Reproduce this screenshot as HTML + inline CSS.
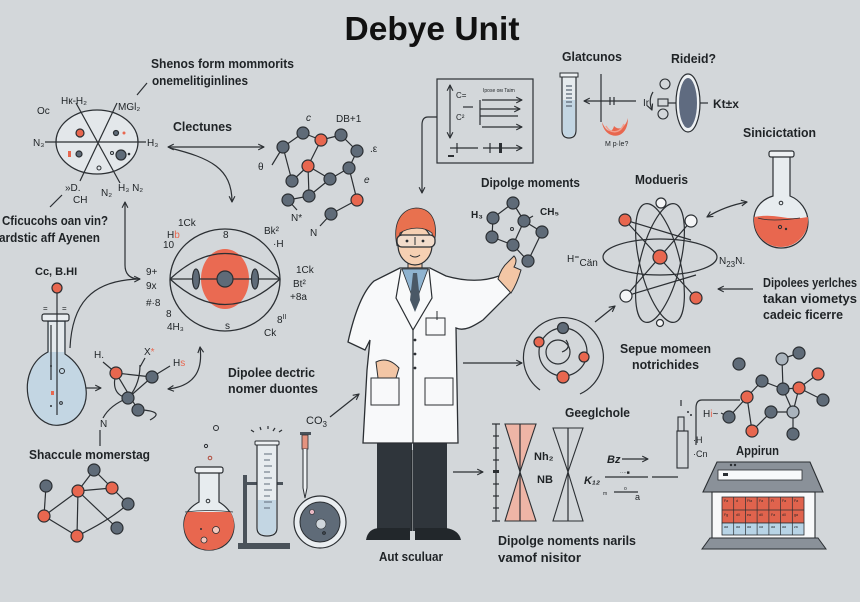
<!DOCTYPE html>
<html><head><meta charset="utf-8"><style>
html,body{margin:0;padding:0;background:#d3d7da;}
svg{display:block}
text{font-family:"Liberation Sans","DejaVu Sans",sans-serif;fill:#1f2326}
.b{font-weight:bold;font-size:13px}
.s{font-size:10px}
.t{font-size:5px}
.ln{fill:none;stroke:#2b2f33;stroke-width:1.2}
.g{fill:#5f6b78;stroke:#2b2f33;stroke-width:1.2}
.o{fill:#e8674f;stroke:#2b2f33;stroke-width:1.2}
.w{fill:#f4f5f6;stroke:#2b2f33;stroke-width:1.2}
.lg{fill:#aab4bd;stroke:#2b2f33;stroke-width:1.2}
</style></head><body>
<svg width="860" height="602" viewBox="0 0 860 602" xmlns="http://www.w3.org/2000/svg">
<defs>
<marker id="a" viewBox="0 0 10 10" refX="9" refY="5" markerWidth="6" markerHeight="6" orient="auto-start-reverse"><path d="M1,1 L9,5 L1,9" fill="none" stroke="#2b2f33" stroke-width="1.6"/></marker>
<clipPath id="cf1"><circle cx="209" cy="525" r="25"/></clipPath>
<clipPath id="cf2"><circle cx="781" cy="220" r="27"/></clipPath>
</defs>
<rect width="860" height="602" fill="#d3d7da"/>

<!-- Title -->
<text x="432" y="40" text-anchor="middle" font-size="33" font-weight="bold" textLength="175" lengthAdjust="spacingAndGlyphs" style="fill:#111">Debye Unit</text>

<!-- Top-left labels -->
<text class="b" x="151" y="68" textLength="143" lengthAdjust="spacingAndGlyphs" style="font-size:12.5px">Shenos form mommorits</text>
<text class="b" x="152" y="85" textLength="96" lengthAdjust="spacingAndGlyphs" style="font-size:12.5px">onemelitiginlines</text>
<line class="ln" x1="137" y1="95" x2="147" y2="83"/>

<!-- Left ellipse diagram -->
<ellipse cx="97" cy="142" rx="41" ry="32" fill="#e3e7ea" stroke="#2b2f33" stroke-width="1.3"/>
<line class="ln" x1="45" y1="142" x2="146" y2="142"/>
<line class="ln" x1="76" y1="103" x2="120" y2="183"/>
<line class="ln" x1="117" y1="103" x2="80" y2="181"/>
<circle class="o" cx="80" cy="133" r="4"/>
<circle class="g" cx="116" cy="133" r="2.5"/>
<circle cx="124" cy="133" r="1.5" fill="#e8674f"/>
<rect x="68" y="151" width="3" height="6" fill="#e8674f"/>
<circle class="g" cx="79" cy="154" r="3"/>
<circle class="g" cx="121" cy="155" r="5"/>
<circle cx="112" cy="153" r="1.5" fill="none" stroke="#2b2f33"/>
<circle cx="129" cy="154" r="1.3" fill="#2b2f33"/>
<circle cx="99" cy="168" r="2" fill="none" stroke="#2b2f33"/>
<text class="s" x="37" y="114">Oc</text>
<text class="s" x="61" y="104">Hк-H₂</text>
<text class="s" x="118" y="110">MGl₂</text>
<text class="s" x="33" y="146">N₃</text>
<text class="s" x="147" y="146">H₃</text>
<text class="s" x="65" y="191">»D.</text>
<text class="s" x="73" y="203">CH</text>
<text class="s" x="101" y="196">N₂</text>
<text class="s" x="118" y="191">H₃ N₂</text>
<line class="ln" x1="50" y1="207" x2="62" y2="195"/>

<text class="b" x="2" y="225" textLength="106" lengthAdjust="spacingAndGlyphs">Cficucohs oan vin?</text>
<text class="b" x="-1" y="242" textLength="101" lengthAdjust="spacingAndGlyphs">ardstic aff Ayenen</text>

<!-- Clectunes -->
<text class="b" x="173" y="131" textLength="59" lengthAdjust="spacingAndGlyphs">Clectunes</text>
<line class="ln" x1="168" y1="147" x2="264" y2="147" marker-start="url(#a)" marker-end="url(#a)"/>
<path class="ln" d="M170 148 C210 158 232 168 232 202" marker-end="url(#a)"/>

<!-- vertical arrow up to left diagram -->
<path class="ln" d="M140 279 Q125 279 125 265 L125 202" marker-end="url(#a)"/>

<!-- Top molecule network -->
<g class="ln">
<line x1="283" y1="147" x2="303" y2="133"/>
<line x1="303" y1="133" x2="321" y2="140"/>
<line x1="321" y1="140" x2="341" y2="135"/>
<line x1="341" y1="135" x2="357" y2="151"/>
<line x1="357" y1="151" x2="349" y2="168"/>
<line x1="321" y1="140" x2="308" y2="166"/>
<line x1="283" y1="147" x2="292" y2="181"/>
<line x1="308" y1="166" x2="330" y2="179"/>
<line x1="349" y1="168" x2="330" y2="179"/>
<line x1="308" y1="166" x2="309" y2="196"/>
<line x1="330" y1="179" x2="309" y2="196"/>
<line x1="292" y1="181" x2="308" y2="166"/>
<line x1="309" y1="196" x2="288" y2="200"/>
<line x1="349" y1="168" x2="357" y2="200"/>
<line x1="357" y1="200" x2="331" y2="214"/>
<line x1="283" y1="147" x2="272" y2="165"/>
<line x1="331" y1="214" x2="320" y2="226"/>
<line x1="288" y1="200" x2="297" y2="210"/>
</g>
<circle class="g" cx="283" cy="147" r="6"/>
<circle class="g" cx="303" cy="133" r="6"/>
<circle class="o" cx="321" cy="140" r="6"/>
<circle class="g" cx="341" cy="135" r="6"/>
<circle class="g" cx="357" cy="151" r="6"/>
<circle class="g" cx="349" cy="168" r="6"/>
<circle class="o" cx="308" cy="166" r="6"/>
<circle class="g" cx="292" cy="181" r="6"/>
<circle class="g" cx="330" cy="179" r="6"/>
<circle class="g" cx="309" cy="196" r="6"/>
<circle class="g" cx="288" cy="200" r="6"/>
<circle class="o" cx="357" cy="200" r="6"/>
<circle class="g" cx="331" cy="214" r="6"/>
<text class="s" x="306" y="121" font-style="italic">c</text>
<text class="s" x="336" y="122">DB+1</text>
<text class="s" x="258" y="170">θ</text>
<text class="s" x="364" y="183" font-style="italic">e</text>
<text class="s" x="370" y="152">.ε</text>
<text class="s" x="291" y="221">N*</text>
<text class="s" x="310" y="236">N</text>

<!-- Chart box -->
<path class="ln" d="M437 117 L428 117 Q422 117 422 125 L422 193" marker-end="url(#a)"/>
<rect x="437" y="79" width="96" height="84" fill="none" stroke="#2b2f33" stroke-width="1.2"/>
<line class="ln" x1="450" y1="85" x2="450" y2="138" marker-start="url(#a)" marker-end="url(#a)"/>
<text class="s" x="456" y="98" style="font-size:8px">C=</text>
<text class="s" x="456" y="120" style="font-size:8px">C²</text>
<text class="t" x="483" y="92">Ipose ом Taim</text>
<line class="ln" x1="463" y1="107" x2="473" y2="107"/>
<g class="ln" stroke-width="0.9">
<line x1="482" y1="100" x2="522" y2="100" marker-end="url(#a)"/>
<line x1="480" y1="109" x2="520" y2="109" marker-end="url(#a)"/>
<line x1="480" y1="116" x2="518" y2="116"/>
<line x1="482" y1="127" x2="522" y2="127" marker-end="url(#a)"/>
<line x1="480" y1="100" x2="480" y2="125"/>
<line x1="450" y1="148" x2="478" y2="148"/>
<line x1="483" y1="148" x2="522" y2="148" marker-end="url(#a)"/>
<line x1="457" y1="143" x2="457" y2="153"/>
<line x1="490" y1="143" x2="490" y2="153"/>
</g>
<rect x="499" y="143" width="3" height="10" fill="#2b2f33"/>
<rect x="448" y="155" width="6" height="2" fill="#2b2f33"/>

<!-- Glatcunos -->
<text class="b" x="562" y="61" textLength="60" lengthAdjust="spacingAndGlyphs">Glatcunos</text>
<path d="M562 75 L562 130 Q562 138 569 138 Q576 138 576 130 L576 75 Z" fill="#e6ebee" stroke="#2b2f33" stroke-width="1.2"/>
<path d="M563 100 L563 130 Q563 137 569 137 Q575 137 575 130 L575 100 Z" fill="#c3d6e3"/>
<rect x="560" y="73" width="18" height="4" fill="#eef1f3" stroke="#2b2f33" stroke-width="1"/>
<g stroke="#5f6b78" stroke-width="1.3"><line x1="566" y1="86" x2="572" y2="86"/><line x1="566" y1="90" x2="572" y2="90"/><line x1="566" y1="94" x2="572" y2="94"/><line x1="566" y1="98" x2="572" y2="98"/><line x1="566" y1="102" x2="572" y2="102"/><line x1="566" y1="106" x2="572" y2="106"/></g>
<line class="ln" x1="636" y1="101" x2="584" y2="101" marker-end="url(#a)"/>
<line class="ln" x1="601" y1="74" x2="601" y2="122"/>
<line class="ln" x1="610" y1="97" x2="610" y2="105"/><line class="ln" x1="614" y1="97" x2="614" y2="105"/>
<path d="M602 122 C604 140 628 142 628 118 C626 126 620 132 614 126 C612 134 606 132 602 122 Z" fill="#e8674f"/>
<path d="M606 126 C610 134 620 134 624 124" fill="none" stroke="#f2a08f" stroke-width="1.5"/>
<text x="605" y="146" style="font-size:7px">M p·le?</text>

<!-- Rideid -->
<text class="b" x="671" y="63" textLength="45" lengthAdjust="spacingAndGlyphs">Rideid?</text>
<ellipse cx="688" cy="103" rx="12" ry="29" fill="#eef1f3" stroke="#2b2f33" stroke-width="1.2"/>
<ellipse cx="688" cy="103" rx="9" ry="25" fill="#5f6b80"/>
<circle cx="665" cy="84" r="5" fill="none" stroke="#2b2f33" stroke-width="1.1"/>
<circle cx="663" cy="114" r="5" fill="none" stroke="#2b2f33" stroke-width="1.1"/>
<rect x="658" y="99" width="10" height="7" fill="none" stroke="#2b2f33" stroke-width="1.1"/>
<line class="ln" x1="668" y1="103" x2="676" y2="103"/>
<line class="ln" x1="700" y1="103" x2="708" y2="103"/>
<text class="s" x="643" y="106">Ir</text>
<path class="ln" d="M653 92 Q648 100 652 110" marker-end="url(#a)"/>
<text class="b" x="713" y="108" style="font-size:12px">Kt±x</text>

<!-- Sinicictation flask -->
<text class="b" x="743" y="137" textLength="73" lengthAdjust="spacingAndGlyphs">Sinicictation</text>
<path d="M773 156 L773 196 C760 200 753 210 754 222 C755 238 768 248 781 248 C795 248 808 238 808 222 C808 210 800 200 790 196 L790 156 Z" fill="#e7ecef" stroke="#2b2f33" stroke-width="1.2"/>
<g clip-path="url(#cf2)"><path d="M750 218 Q765 214 781 217 Q797 220 812 216 L812 260 L750 260 Z" fill="#e8674f"/></g>
<path d="M758 218 Q770 222 800 218" fill="none" stroke="#2b2f33" stroke-width="0.8"/>
<rect x="769" y="151" width="25" height="6" rx="2" fill="#eef1f3" stroke="#2b2f33" stroke-width="1.2"/>
<circle cx="781" cy="203" r="1.8" fill="none" stroke="#2b2f33"/>
<circle cx="780" cy="227" r="1.6" fill="none" stroke="#2b2f33"/>
<circle cx="786" cy="229" r="1.2" fill="#2b2f33"/>
<path class="ln" d="M707 217 Q725 206 747 202" marker-start="url(#a)" marker-end="url(#a)"/>

<!-- Dipolge moments molecule -->
<text class="b" x="481" y="187" textLength="99" lengthAdjust="spacingAndGlyphs">Dipolge moments</text>
<g class="ln">
<line x1="513" y1="203" x2="493" y2="218"/><line x1="513" y1="203" x2="524" y2="221"/>
<line x1="524" y1="221" x2="542" y2="232"/><line x1="493" y1="218" x2="492" y2="237"/>
<line x1="492" y1="237" x2="513" y2="245"/><line x1="513" y1="245" x2="528" y2="261"/>
<line x1="542" y1="232" x2="528" y2="261"/><line x1="524" y1="221" x2="513" y2="245"/>
<line x1="533" y1="216" x2="526" y2="220"/>
</g>
<circle class="g" cx="513" cy="203" r="6"/><circle class="g" cx="493" cy="218" r="6"/>
<circle class="g" cx="524" cy="221" r="6"/><circle class="g" cx="542" cy="232" r="6"/>
<circle class="g" cx="492" cy="237" r="6"/><circle class="g" cx="513" cy="245" r="6"/>
<circle class="g" cx="528" cy="261" r="6"/>
<circle cx="512" cy="229" r="1.5" fill="none" stroke="#2b2f33"/>
<text class="s" x="471" y="218" font-weight="bold">H₃</text>
<text class="s" x="540" y="215" font-weight="bold">CH₅</text>

<!-- Atom -->
<text class="b" x="635" y="184" textLength="53" lengthAdjust="spacingAndGlyphs">Modueris</text>
<g class="ln">
<ellipse cx="660" cy="257" rx="57" ry="18"/>
<ellipse cx="660" cy="263" rx="20" ry="61" transform="rotate(-14 660 263)"/>
<ellipse cx="660" cy="263" rx="20" ry="61" transform="rotate(14 660 263)"/>
<line x1="625" y1="220" x2="696" y2="298"/>
<line x1="691" y1="221" x2="626" y2="296"/>
<line x1="625" y1="220" x2="691" y2="240"/>
<line x1="626" y1="296" x2="696" y2="275"/>
</g>
<circle class="o" cx="660" cy="257" r="7"/>
<circle class="w" cx="661" cy="203" r="5"/>
<circle class="o" cx="625" cy="220" r="6"/>
<circle class="w" cx="691" cy="221" r="6"/>
<circle class="w" cx="626" cy="296" r="6"/>
<circle class="o" cx="696" cy="298" r="6"/>
<circle class="w" cx="660" cy="323" r="3.5"/>
<text class="s" x="567" y="262">H⁼<tspan dy="4">Cän</tspan></text>
<text class="s" x="719" y="264">N<tspan dy="3" style="font-size:8px">23</tspan><tspan dy="-3">N.</tspan></text>

<text class="b" x="763" y="287" textLength="94" lengthAdjust="spacingAndGlyphs">Dipolees yerlches</text>
<text class="b" x="763" y="303" textLength="94" lengthAdjust="spacingAndGlyphs">takan viometys</text>
<text class="b" x="763" y="319" textLength="80" lengthAdjust="spacingAndGlyphs">cadeic ficerre</text>
<line class="ln" x1="753" y1="289" x2="718" y2="289" marker-end="url(#a)"/>

<!-- Orbit circle -->
<path class="ln" d="M540 390 A40 40 0 1 1 580 394"/>
<circle class="ln" cx="563" cy="352" r="24"/>
<circle class="ln" cx="558" cy="352" r="12"/>
<path class="ln" d="M566 340 Q572 348 562 352" />
<circle class="g" cx="563" cy="328" r="5.5"/>
<circle class="o" cx="539" cy="342" r="5"/>
<circle class="o" cx="584" cy="357" r="5"/>
<circle class="o" cx="563" cy="377" r="6"/>
<line class="ln" x1="595" y1="322" x2="615" y2="306" marker-end="url(#a)"/>
<line class="ln" x1="463" y1="363" x2="522" y2="363" marker-end="url(#a)"/>
<text class="b" x="620" y="353" textLength="91" lengthAdjust="spacingAndGlyphs">Sepue momeen</text>
<text class="b" x="632" y="369" textLength="67" lengthAdjust="spacingAndGlyphs">notrichides</text>

<!-- Right molecule cluster -->
<g class="ln">
<line x1="799" y1="353" x2="782" y2="359"/>
<line x1="782" y1="359" x2="783" y2="389"/>
<line x1="762" y1="381" x2="783" y2="389"/>
<line x1="783" y1="389" x2="799" y2="388"/>
<line x1="799" y1="388" x2="818" y2="374"/>
<line x1="799" y1="388" x2="823" y2="400"/>
<line x1="762" y1="381" x2="747" y2="397"/>
<line x1="747" y1="397" x2="729" y2="417"/>
<line x1="747" y1="397" x2="752" y2="431"/>
<line x1="752" y1="431" x2="771" y2="412"/>
<line x1="771" y1="412" x2="793" y2="412"/>
<line x1="793" y1="412" x2="799" y2="388"/>
<line x1="793" y1="412" x2="793" y2="434"/>
<line x1="783" y1="389" x2="793" y2="412"/>
<line x1="729" y1="417" x2="721" y2="413"/>
<path d="M740 400 L702 400 Q696 400 696 408 L696 445"/>
</g>
<circle class="g" cx="799" cy="353" r="6"/>
<circle class="lg" cx="782" cy="359" r="6"/>
<circle class="g" cx="739" cy="364" r="6"/>
<circle class="o" cx="818" cy="374" r="6"/>
<circle class="g" cx="762" cy="381" r="6"/>
<circle class="g" cx="783" cy="389" r="6"/>
<circle class="o" cx="799" cy="388" r="6"/>
<circle class="o" cx="747" cy="397" r="6"/>
<circle class="g" cx="823" cy="400" r="6"/>
<circle class="g" cx="771" cy="412" r="6"/>
<circle class="lg" cx="793" cy="412" r="6"/>
<circle class="g" cx="729" cy="417" r="6"/>
<circle class="o" cx="752" cy="431" r="6"/>
<circle class="g" cx="793" cy="434" r="6"/>
<text class="s" x="703" y="417">H<tspan fill="#e8674f">i</tspan>~</text>
<text class="s" x="693" y="443" style="font-size:9px">·H</text>
<text class="s" x="693" y="457" style="font-size:9px">·Cn</text>
<rect x="678" y="417" width="6" height="14" fill="none" stroke="#2b2f33" stroke-width="1.1"/>
<rect x="677" y="431" width="11" height="37" fill="none" stroke="#2b2f33" stroke-width="1.1"/>
<line class="ln" x1="681" y1="400" x2="681" y2="406"/>
<circle cx="688" cy="412" r="1" fill="#2b2f33"/><circle cx="691" cy="415" r="1" fill="#2b2f33"/>

<!-- Geeglchole -->
<text class="b" x="565" y="417" textLength="65" lengthAdjust="spacingAndGlyphs">Geeglchole</text>
<line class="ln" x1="453" y1="472" x2="483" y2="472" marker-end="url(#a)"/>
<g class="ln">
<line x1="496" y1="424" x2="496" y2="521"/>
<line x1="492" y1="424" x2="500" y2="424"/><line x1="492" y1="521" x2="500" y2="521"/>
<line x1="493" y1="436" x2="499" y2="436"/><line x1="493" y1="448" x2="499" y2="448"/>
<line x1="493" y1="460" x2="499" y2="460"/><line x1="493" y1="484" x2="499" y2="484"/>
<line x1="493" y1="496" x2="499" y2="496"/><line x1="493" y1="508" x2="499" y2="508"/>
</g>
<rect x="493" y="470" width="6" height="3" fill="#2b2f33"/>
<path d="M505 424 L536 424 L520 472 L536 521 L505 521 L520 472 Z" fill="#eeb5a6" stroke="#2b2f33" stroke-width="1.1"/>
<line class="ln" x1="520" y1="424" x2="520" y2="521"/>
<path d="M553 428 L583 428 L568 472 L583 521 L553 521 L568 472 Z" fill="none" stroke="#2b2f33" stroke-width="1.1"/>
<line class="ln" x1="568" y1="428" x2="568" y2="521"/>
<text class="s" x="534" y="460" style="font-size:11px;font-weight:bold">Nh₂</text>
<text class="s" x="537" y="483" style="font-size:11px;font-weight:bold">NB</text>
<text class="s" x="584" y="484" style="font-size:11px;font-weight:bold;font-style:italic">K₁₂</text>
<text class="s" x="607" y="463" style="font-size:11px;font-weight:bold;font-style:italic">Bz</text>
<line class="ln" x1="622" y1="459" x2="648" y2="459" marker-end="url(#a)"/>
<line class="ln" x1="605" y1="477" x2="648" y2="477"/>
<line class="ln" x1="652" y1="477" x2="678" y2="477"/>
<text class="t" x="620" y="474">····■</text>
<text class="t" x="603" y="495">m</text>
<text class="t" x="624" y="490">o</text>
<line class="ln" x1="614" y1="492" x2="638" y2="492" stroke-width="0.8"/>
<text class="s" x="635" y="500" style="font-size:9px">a</text>

<text class="b" x="498" y="545" textLength="138" lengthAdjust="spacingAndGlyphs">Dipolge noments narils</text>
<text class="b" x="498" y="562" textLength="83" lengthAdjust="spacingAndGlyphs">vamof nisitor</text>

<!-- Appirun device -->
<text class="b" x="736" y="455" textLength="43" lengthAdjust="spacingAndGlyphs">Appirun</text>
<path d="M717 462 L810 462 L823 492 L703 492 Z" fill="#8a9199" stroke="#2b2f33" stroke-width="1.1"/>
<rect x="718" y="470" width="84" height="10" fill="#f8f9fa" stroke="#2b2f33" stroke-width="0.8"/>
<rect x="723" y="473" width="5" height="3" fill="#2b2f33"/>
<circle cx="731" cy="465" r="1.2" fill="#2b2f33"/><circle cx="735" cy="465" r="1.2" fill="#2b2f33"/>
<rect x="712" y="492" width="103" height="52" fill="#f8f9fa" stroke="#2b2f33" stroke-width="1.1"/>
<path d="M710 538 L818 538 L826 549 L702 549 Z" fill="#8a9199" stroke="#2b2f33" stroke-width="1"/>
<rect x="722" y="497" width="82" height="26" fill="#e0634d" stroke="#2b2f33" stroke-width="0.8"/>
<rect x="722" y="523" width="82" height="12" fill="#b8d4e6" stroke="#2b2f33" stroke-width="0.8"/>
<g stroke="#2b2f33" stroke-width="0.7">
<line x1="722" y1="510" x2="804" y2="510"/>
<line x1="733.7" y1="497" x2="733.7" y2="535"/><line x1="745.4" y1="497" x2="745.4" y2="535"/>
<line x1="757.1" y1="497" x2="757.1" y2="535"/><line x1="768.9" y1="497" x2="768.9" y2="535"/>
<line x1="780.6" y1="497" x2="780.6" y2="535"/><line x1="792.3" y1="497" x2="792.3" y2="535"/>
</g>
<g fill="#3a2a28" style="font-size:3.5px">
<text x="724" y="502">Fa</text><text x="736" y="502">d</text><text x="747" y="502">Ffa</text><text x="759" y="502">Fa</text><text x="771" y="502">Fi</text><text x="782" y="502">Fa</text><text x="794" y="502">Fa</text>
<text x="724" y="516">Fg</text><text x="736" y="516">d0</text><text x="747" y="516">ea</text><text x="759" y="516">d0</text><text x="771" y="516">Fa</text><text x="782" y="516">d0</text><text x="794" y="516">ga</text>
<text x="724" y="528">aa</text><text x="736" y="528">aa</text><text x="747" y="528">aa</text><text x="759" y="528">ua</text><text x="771" y="528">aa</text><text x="782" y="528">aa</text><text x="794" y="528">za</text>
</g>

<!-- Left flask -->
<text class="s" x="35" y="275" style="font-weight:bold;font-size:11px">Cc, B.HI</text>
<circle class="o" cx="57" cy="288" r="5"/>
<path d="M48 321 L48 352 C32 360 25 378 28 396 C32 418 48 427 60 425 C78 423 88 406 86 389 C84 370 74 360 65 354 L65 321 Z" fill="#c3d6e3" stroke="#2b2f33" stroke-width="1.2"/>
<path d="M49 322 L49 352 L64 352 L64 322 Z" fill="#e4e9ec"/>
<rect x="42" y="314" width="27" height="7" rx="2" fill="#e9edf0" stroke="#2b2f33" stroke-width="1.2"/>
<line class="ln" x1="57" y1="293" x2="57" y2="415"/>
<line class="ln" x1="51" y1="325" x2="51" y2="380"/>
<text class="s" x="43" y="311" style="font-size:8px">=</text><text class="s" x="62" y="311" style="font-size:8px">=</text>
<circle cx="62" cy="371" r="2.5" fill="none" stroke="#2b2f33"/>
<circle cx="51" cy="366" r="1" fill="#2b2f33"/>
<rect x="51" y="391" width="3" height="4" fill="#e8674f"/>
<circle cx="51" cy="406" r="1" fill="#2b2f33"/>
<circle cx="61" cy="403" r="1.4" fill="none" stroke="#2b2f33"/>
<path class="ln" d="M70 348 C72 305 90 280 140 279" marker-end="url(#a)"/>

<!-- Sphere -->
<ellipse cx="225" cy="280" rx="55" ry="51" fill="none" stroke="#2b2f33" stroke-width="1.3"/>
<ellipse cx="225" cy="279" rx="24" ry="30" fill="#ea6a52"/>
<path class="ln" d="M170 279 Q225 228 280 279 Q225 330 170 279"/>
<line class="ln" x1="170" y1="279" x2="280" y2="279"/>
<ellipse class="g" cx="196" cy="279" rx="3.5" ry="10"/>
<ellipse class="g" cx="255" cy="279" rx="3.5" ry="10"/>
<circle class="g" cx="225" cy="279" r="8"/>
<text class="s" x="178" y="226">1Ck</text>
<text class="s" x="167" y="238">H<tspan fill="#e8674f">b</tspan></text>
<text class="s" x="163" y="248">10</text>
<text class="s" x="223" y="238">8</text>
<text class="s" x="264" y="234">Bk²</text>
<text class="s" x="273" y="247">·H</text>
<text class="s" x="146" y="275">9+</text>
<text class="s" x="146" y="289">9x</text>
<text class="s" x="146" y="306">#·8</text>
<text class="s" x="166" y="317">8</text>
<text class="s" x="167" y="330">4H₃</text>
<text class="s" x="225" y="329">s</text>
<text class="s" x="277" y="323">8<tspan dy="-4" style="font-size:7px">II</tspan></text>
<text class="s" x="264" y="336">Ck</text>
<text class="s" x="296" y="273">1Ck</text>
<text class="s" x="293" y="287">Bt²</text>
<text class="s" x="290" y="300">+8a</text>

<!-- small molecule below sphere -->
<g class="ln">
<line x1="116" y1="373" x2="152" y2="377"/>
<path d="M116 373 Q110 395 128 398"/>
<line x1="116" y1="373" x2="138" y2="410"/>
<line x1="152" y1="377" x2="128" y2="398"/>
<path d="M128 398 Q140 385 140 365"/>
<line x1="116" y1="373" x2="103" y2="362"/>
<line x1="140" y1="367" x2="145" y2="358"/>
<line x1="152" y1="377" x2="170" y2="366"/>
<path d="M128 398 Q110 405 103 418"/>
<path d="M143 410 Q165 412 150 420"/>
<line x1="100" y1="430" x2="100" y2="446"/>
</g>
<circle class="o" cx="116" cy="373" r="6"/>
<circle class="g" cx="152" cy="377" r="6"/>
<circle class="g" cx="128" cy="398" r="6"/>
<circle class="g" cx="138" cy="410" r="6"/>
<text class="s" x="94" y="358">H.</text>
<text class="s" x="144" y="355">X<tspan fill="#e8674f">*</tspan></text>
<text class="s" x="173" y="366">H<tspan fill="#e8674f">s</tspan></text>
<text class="s" x="100" y="427">N</text>
<line class="ln" x1="86" y1="388" x2="101" y2="388" marker-end="url(#a)"/>
<path class="ln" d="M200 347 Q205 385 168 389" marker-start="url(#a)" marker-end="url(#a)"/>

<text class="b" x="228" y="377" textLength="87" lengthAdjust="spacingAndGlyphs">Dipolee dectric</text>
<text class="b" x="228" y="393" textLength="90" lengthAdjust="spacingAndGlyphs">nomer duontes</text>

<text class="b" x="29" y="459" textLength="121" lengthAdjust="spacingAndGlyphs">Shaccule momerstag</text>

<!-- bottom-left molecule -->
<g class="ln">
<line x1="46" y1="486" x2="44" y2="516"/>
<line x1="44" y1="516" x2="78" y2="491"/>
<line x1="78" y1="491" x2="94" y2="470"/>
<line x1="94" y1="470" x2="112" y2="488"/>
<line x1="78" y1="491" x2="112" y2="488"/>
<line x1="112" y1="488" x2="128" y2="504"/>
<line x1="78" y1="491" x2="77" y2="536"/>
<line x1="44" y1="516" x2="77" y2="536"/>
<path d="M77 536 Q110 520 128 504"/>
<line x1="78" y1="491" x2="117" y2="528"/>
</g>
<circle class="g" cx="94" cy="470" r="6"/>
<circle class="g" cx="46" cy="486" r="6"/>
<circle class="o" cx="78" cy="491" r="6"/>
<circle class="o" cx="112" cy="488" r="6"/>
<circle class="g" cx="128" cy="504" r="6"/>
<circle class="o" cx="44" cy="516" r="6"/>
<circle class="g" cx="117" cy="528" r="6"/>
<circle class="o" cx="77" cy="536" r="6"/>

<!-- bottom lab -->
<circle cx="216" cy="428" r="2.5" fill="none" stroke="#2b2f33"/>
<circle cx="206" cy="446" r="1.6" fill="none" stroke="#2b2f33"/>
<circle cx="210" cy="458" r="1.8" fill="none" stroke="#b04a3a"/>
<path d="M199 472 L199 502 C188 508 183 516 184 527 C185 542 196 550 209 550 C222 550 233 542 234 527 C234 516 229 508 219 502 L219 472 Z" fill="#e7ecef" stroke="#2b2f33" stroke-width="1.2"/>
<g clip-path="url(#cf1)"><rect x="180" y="512" width="60" height="50" fill="#e8674f"/></g>
<path d="M185 512 Q209 509 233 512" fill="none" stroke="#2b2f33" stroke-width="0.8"/>
<rect x="195" y="467" width="28" height="6" rx="2" fill="#eef1f3" stroke="#2b2f33" stroke-width="1.2"/>
<circle cx="208" cy="501" r="1.8" fill="none" stroke="#2b2f33"/>
<circle cx="216" cy="530" r="3.5" fill="#f3c7bd" stroke="#2b2f33" stroke-width="0.8"/>
<circle cx="204" cy="540" r="3" fill="#f3c7bd" stroke="#2b2f33" stroke-width="0.8"/>
<circle cx="201" cy="529" r="1" fill="#2b2f33"/>
<rect x="243" y="475" width="4" height="70" fill="#4a525a"/>
<rect x="238" y="543" width="52" height="6" fill="#4a525a"/>
<rect x="245" y="482" width="38" height="3" fill="#4a525a"/>
<path d="M257 444 L257 528 Q257 536 267 536 Q277 536 277 528 L277 444 Z" fill="#e7ecef" stroke="#2b2f33" stroke-width="1.2"/>
<path d="M258 500 L258 528 Q258 535 267 535 Q276 535 276 528 L276 500 Z" fill="#c3d6e3"/>
<rect x="255" y="441" width="24" height="4" rx="1" fill="#eef1f3" stroke="#2b2f33" stroke-width="1"/>
<g stroke="#5f6b78" stroke-width="1"><line x1="264" y1="454" x2="272" y2="454"/><line x1="264" y1="460" x2="270" y2="460"/><line x1="264" y1="466" x2="272" y2="466"/><line x1="264" y1="472" x2="270" y2="472"/><line x1="264" y1="478" x2="272" y2="478"/><line x1="264" y1="484" x2="270" y2="484"/><line x1="264" y1="490" x2="272" y2="490"/><line x1="264" y1="496" x2="270" y2="496"/><line x1="264" y1="502" x2="272" y2="502"/><line x1="264" y1="508" x2="270" y2="508"/></g>
<g class="ln" stroke-width="0.9"><line x1="251" y1="430" x2="254" y2="432"/><line x1="260" y1="427" x2="261" y2="430"/><line x1="268" y1="426" x2="268" y2="429"/><line x1="275" y1="428" x2="273" y2="431"/><line x1="282" y1="430" x2="279" y2="432"/></g>
<rect x="300" y="432" width="11" height="3" fill="#4a525a"/>
<rect x="302" y="435" width="6" height="14" fill="#e4937f" stroke="#2b2f33" stroke-width="0.8"/>
<path d="M303 449 L303 488 L305 498 L307 488 L307 449" fill="#eef1f3" stroke="#2b2f33" stroke-width="1"/>
<circle cx="320" cy="522" r="26" fill="#e9edf0" stroke="#2b2f33" stroke-width="1.2"/>
<circle cx="320" cy="522" r="20" fill="#5f6b78" stroke="#2b2f33" stroke-width="1"/>
<circle cx="312" cy="512" r="2.5" fill="#e9b9c4" stroke="#2b2f33" stroke-width="0.6"/>
<circle cx="321" cy="524" r="5" fill="#cfd6dc" stroke="#2b2f33" stroke-width="0.6"/>
<circle cx="324" cy="533" r="1.3" fill="none" stroke="#1f2326"/>
<text class="s" x="306" y="424" style="font-size:11px">CO<tspan dy="3" style="font-size:8px">3</tspan></text>
<line class="ln" x1="330" y1="417" x2="359" y2="394" marker-end="url(#a)"/>

<!-- Scientist -->
<rect x="377" y="443" width="35" height="88" fill="#2f353b"/>
<rect x="413" y="443" width="34" height="88" fill="#2f353b"/>
<line x1="412" y1="450" x2="412" y2="531" stroke="#1b1f22" stroke-width="1"/>
<path d="M366 540 Q368 528 380 528 L410 528 L410 540 Z" fill="#22272b"/>
<path d="M415 528 L446 528 Q459 530 461 540 L415 540 Z" fill="#22272b"/>
<rect x="408" y="258" width="14" height="14" fill="#f3c6a5" stroke="#2b2f33" stroke-width="1"/>
<path d="M400 268 L374 281 C362 292 354 315 348 342 L365 350 L370 340 L367 370 L363 443 L458 443 L456 328 C465 332 475 325 483 320 L511 292 L499 276 C480 283 460 280 446 276 L430 268 Z" fill="#f8f9fa" stroke="#2b2f33" stroke-width="1.3"/>
<path d="M402 269 L428 269 L415 304 Z" fill="#8fb3d0" stroke="#2b2f33" stroke-width="0.8"/>
<path d="M413 273 L417 273 L420 300 L415 312 L410 300 Z" fill="#4a5866"/>
<path class="ln" d="M401 269 L396 298 L413 330 L432 298 L429 269"/>
<line class="ln" x1="413" y1="330" x2="413" y2="443"/>
<circle cx="415" cy="340" r="1.4" fill="#2b2f33"/><circle cx="415" cy="354" r="1.4" fill="#2b2f33"/><circle cx="415" cy="368" r="1.4" fill="#2b2f33"/>
<rect x="426" y="318" width="19" height="17" fill="none" stroke="#2b2f33" stroke-width="1"/>
<line x1="437" y1="311" x2="437" y2="320" stroke="#2b2f33" stroke-width="1"/>
<rect x="371" y="378" width="28" height="27" fill="none" stroke="#2b2f33" stroke-width="1"/>
<rect x="425" y="378" width="28" height="27" fill="none" stroke="#2b2f33" stroke-width="1"/>
<path d="M376 362 Q388 356 399 368 L396 378 L378 378 Z" fill="#f3c6a5" stroke="#2b2f33" stroke-width="1"/>
<path d="M498 279 Q501 268 508 262 L514 256 Q518 260 514 267 L521 270 Q517 284 511 293 Z" fill="#f3c6a5" stroke="#2b2f33" stroke-width="1"/>
<ellipse cx="415" cy="245" rx="17" ry="20" fill="#f6d0b3" stroke="#2b2f33" stroke-width="1.2"/>
<path d="M397 246 C392 222 402 209 416 208 C431 208 439 221 434 244 L432 233 C424 226 409 227 400 233 Z" fill="#e8714f" stroke="#2b2f33" stroke-width="0.8"/>
<rect x="397" y="235" width="38" height="12" rx="5" fill="#f2dccb" stroke="#2b2f33" stroke-width="1.3"/>
<line x1="415" y1="237" x2="415" y2="245" stroke="#2b2f33" stroke-width="1"/>
<circle cx="407" cy="241" r="1.4" fill="#2b2f33"/><circle cx="423" cy="241" r="1.4" fill="#2b2f33"/>
<path d="M410 255 Q415 259 420 255" fill="none" stroke="#2b2f33" stroke-width="1"/>
<text class="b" x="379" y="561" textLength="64" lengthAdjust="spacingAndGlyphs">Aut sculuar</text>
</svg>
</body></html>
